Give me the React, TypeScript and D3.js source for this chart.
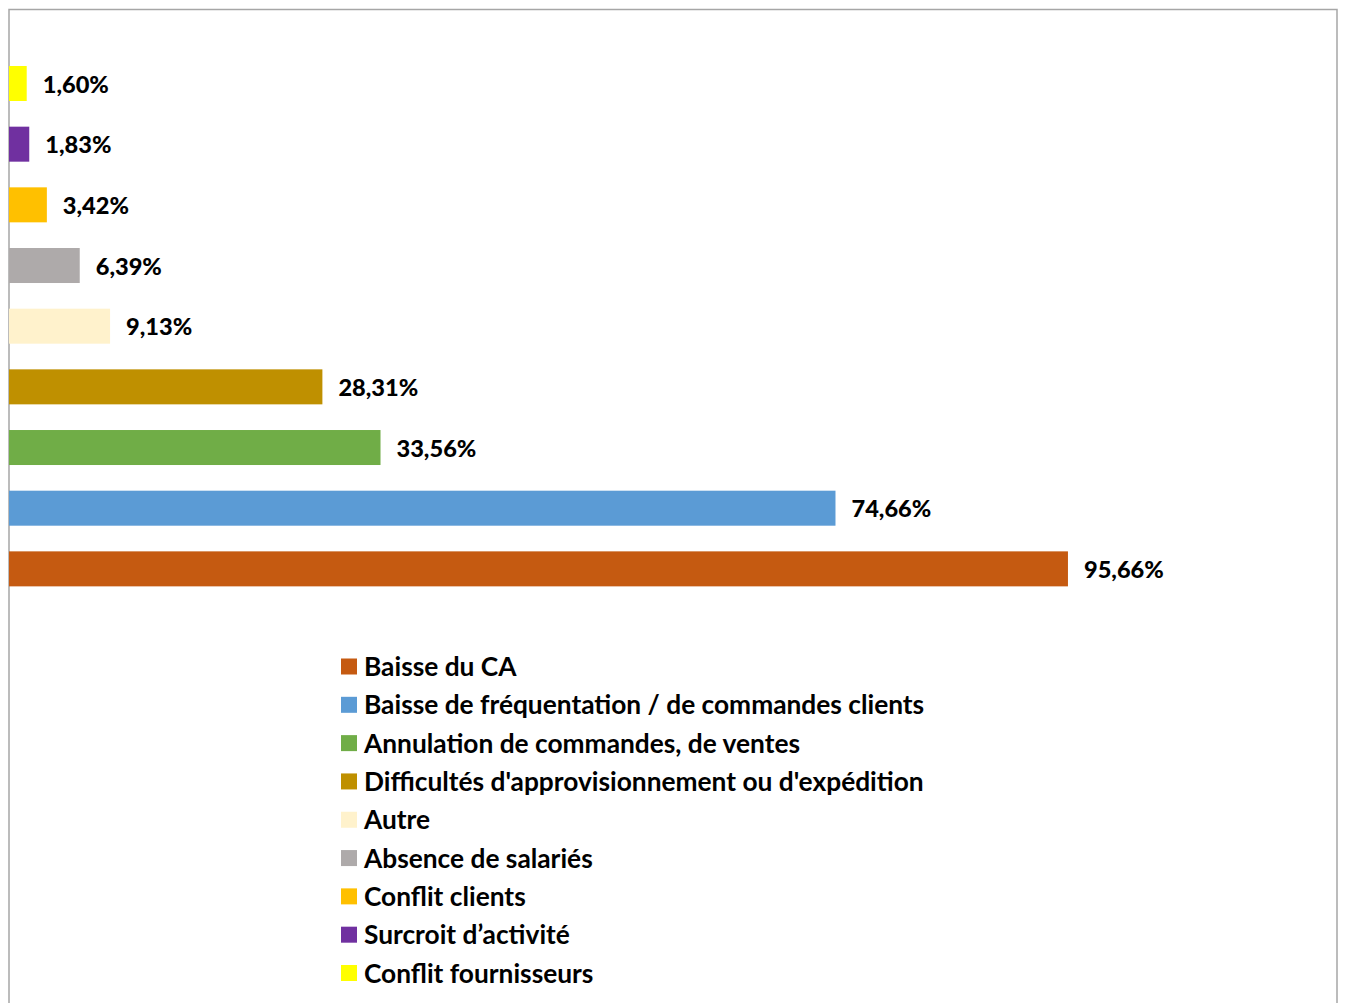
import React from "react";
import * as d3 from "d3";

const categories = [
  "Baisse du CA",
  "Baisse de fréquentation / de commandes clients",
  "Annulation de commandes, de ventes",
  "Difficultés d'approvisionnement ou d'expédition",
  "Autre",
  "Absence de salariés",
  "Conflit clients",
  "Surcroit d’activité",
  "Conflit fournisseurs",
];
const values = [95.66, 74.66, 33.56, 28.31, 9.13, 6.39, 3.42, 1.83, 1.6];
const labels = ["95,66%", "74,66%", "33,56%", "28,31%", "9,13%", "6,39%", "3,42%", "1,83%", "1,60%"];
const colors = ["#C55A11", "#5B9BD5", "#70AD47", "#BF9000", "#FFF2CC", "#AEAAAA", "#FFC000", "#7030A0", "#FFFF00"];

const W = 1345;
const H = 1003;
const FONT = "Lato, 'Open Sans', 'DejaVu Sans', sans-serif";

export default function App() {
  const x = d3.scaleLinear().domain([0, 100]).range([9, 1116]);
  const p = 1 - 35 / 60.67;
  const order = categories.slice().reverse();
  const y = d3
    .scaleBand<string>()
    .domain(order)
    .range([66 - (60.67 * p) / 2, 66 - (60.67 * p) / 2 + 60.67 * 9])
    .paddingInner(p)
    .paddingOuter(p / 2);
  const legendY = d3.scaleLinear().domain([0, 8]).range([666.5, 973]);

  return (
    <svg
      width={W}
      height={H}
      style={{ position: "absolute", left: 0, top: 0, background: "#fff" }}
      fontFamily={FONT}
    >
      <rect x={0} y={0} width={W} height={H} fill="#fff" />
      <path d="M9,1010 V9.5 H1337 V1010" fill="none" stroke="#A6A6A6" strokeWidth={1.5} />
      {categories.map((c, i) => (
        <g key={c}>
          <rect x={x(0)} y={y(c)} width={x(values[i]) - x(0)} height={y.bandwidth()} fill={colors[i]} />
          <text
            x={x(values[i]) + 16}
            y={(y(c) as number) + y.bandwidth() / 2}
            dominantBaseline="central"
            fontSize={23.6}
            fontWeight={900}
            fill="#000"
          >
            {labels[i]}
          </text>
        </g>
      ))}
      {categories.map((c, i) => (
        <g key={"lg" + c}>
          <rect x={341} y={legendY(i) - 8} width={16} height={16} fill={colors[i]} />
          <text x={364} y={legendY(i) - 0.5} dominantBaseline="central" fontSize={26.3} fontWeight="bold" fill="#000">
            {c}
          </text>
        </g>
      ))}
    </svg>
  );
}
